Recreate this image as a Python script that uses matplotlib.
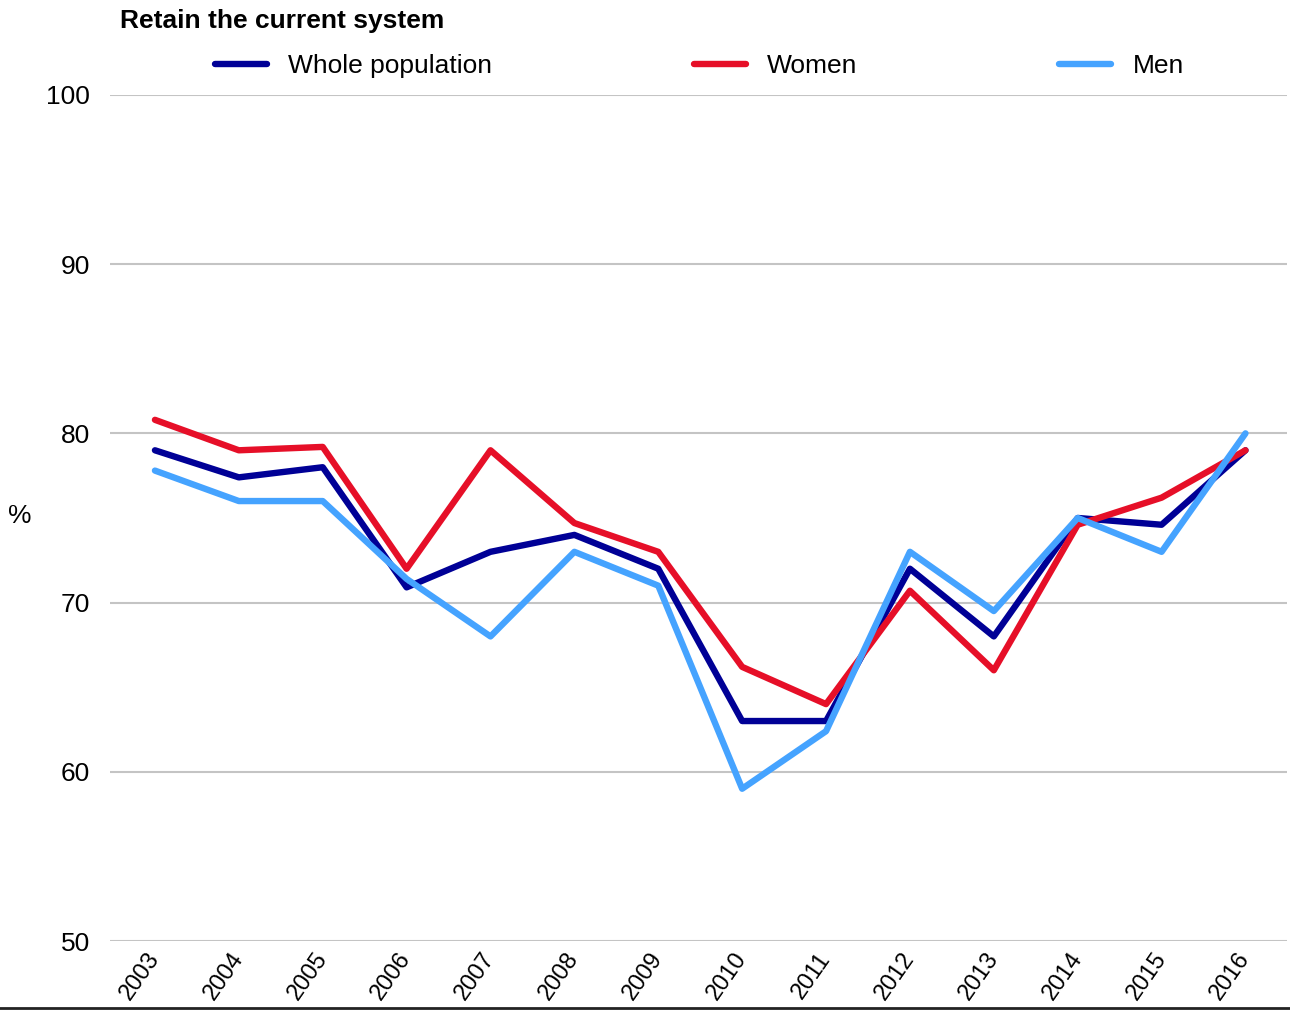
import matplotlib.pyplot as plt
from matplotlib.lines import Line2D
import numpy as np

plt.rcParams['font.family'] = ['Liberation Sans', 'DejaVu Sans']

years = ['2003', '2004', '2005', '2006', '2007', '2008', '2009',
         '2010', '2011', '2012', '2013', '2014', '2015', '2016']
whole = [79.0, 77.4, 78.0, 70.9, 73.0, 74.0, 72.0, 63.0, 63.0, 72.0, 68.0, 75.0, 74.6, 79.0]
women = [80.8, 79.0, 79.2, 72.0, 79.0, 74.7, 73.0, 66.2, 64.0, 70.7, 66.0, 74.6, 76.2, 79.0]
men = [77.8, 76.0, 76.0, 71.4, 68.0, 73.0, 71.0, 59.0, 62.4, 73.0, 69.5, 75.0, 73.0, 80.0]
yticks = [50, 60, 70, 80, 90, 100]

fs = 19

fig = plt.figure(figsize=(12.9, 10.1), dpi=100)
ax = fig.add_axes([0.085, 0.0683, 0.913, 0.8377])

x = np.arange(len(years))
lw = 4.6
ax.plot(x, whole, color='#000096', lw=lw, label='Whole population', solid_capstyle='round')
ax.plot(x, women, color='#E60F28', lw=lw, label='Women', solid_capstyle='round')
ax.plot(x, men, color='#45A3FF', lw=lw, label='Men', solid_capstyle='round')

ax.set_xlim(-0.54, 13.5)
ax.set_ylim(50, 100)
ax.set_yticks(yticks)
ax.set_yticklabels([str(v) for v in yticks], fontsize=fs)
ax.set_xticks(x)
ax.set_xticklabels(years, fontsize=17, rotation=55, ha='right', va='center',
                   rotation_mode='anchor')
ax.tick_params(axis='both', length=0)
ax.tick_params(axis='y', pad=14)
ax.tick_params(axis='x', pad=10)
for s in ax.spines.values():
    s.set_visible(False)
ax.grid(axis='y', color='#C4C4C4', lw=1.5)
ax.set_axisbelow(True)

fig.text(20 / 1290, 1 - 516 / 1010, '%', fontsize=fs, ha='center', va='center')
fig.text(120 / 1290, 1 - 21 / 1010, 'Retain the current system', fontsize=fs,
         fontweight='bold', ha='left', va='center')

ax.legend(loc='center left', bbox_to_anchor=(215 / 1290, 1 - 66 / 1010),
          bbox_transform=fig.transFigure, ncol=3, frameon=False, fontsize=fs,
          borderpad=0, borderaxespad=0, handlelength=1.97, handletextpad=0.8,
          columnspacing=7.65)

fig.add_artist(Line2D([0, 1], [1 - 1008 / 1010] * 2, color='#222222', lw=2,
                      transform=fig.transFigure))

fig.savefig('out.png', dpi=100)
